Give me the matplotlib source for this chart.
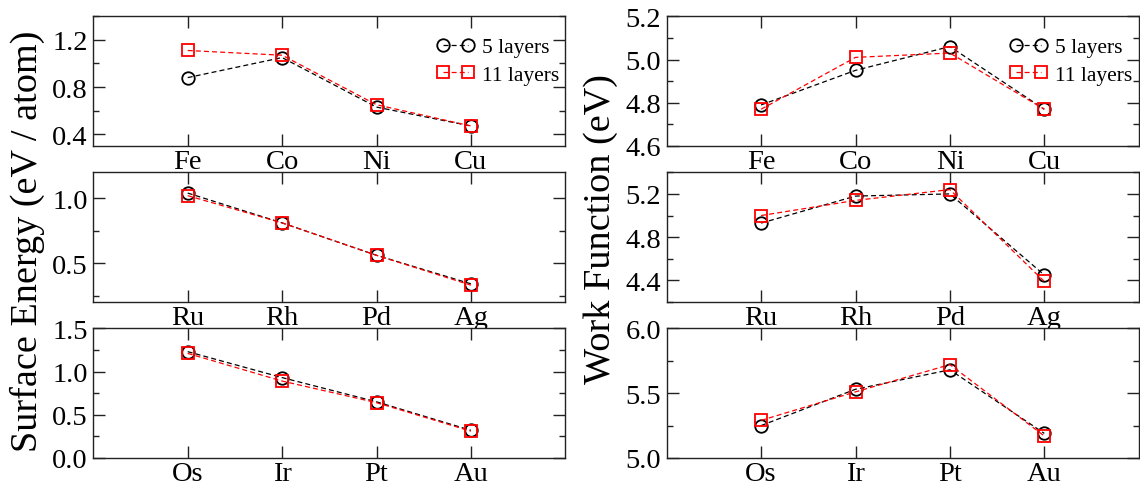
import matplotlib
matplotlib.use('Agg')
import matplotlib.pyplot as plt
from matplotlib.ticker import MultipleLocator, FixedLocator

plt.rcParams['font.family'] = ['Liberation Serif', 'DejaVu Serif']

# Element rows (3d, 4d, 5d metals)
elements_3d = ['Fe', 'Co', 'Ni', 'Cu']
elements_4d = ['Ru', 'Rh', 'Pd', 'Ag']
elements_5d = ['Os', 'Ir', 'Pt', 'Au']

# Surface energy (eV / atom)
surf_3d_5 = [0.88, 1.05, 0.63, 0.47]
surf_3d_11 = [1.11, 1.07, 0.65, 0.47]
surf_4d_5 = [1.04, 0.81, 0.56, 0.34]
surf_4d_11 = [1.02, 0.81, 0.56, 0.33]
surf_5d_5 = [1.23, 0.93, 0.65, 0.32]
surf_5d_11 = [1.21, 0.89, 0.64, 0.31]

# Work function (eV)
wf_3d_5 = [4.79, 4.95, 5.06, 4.77]
wf_3d_11 = [4.77, 5.01, 5.03, 4.77]
wf_4d_5 = [4.93, 5.18, 5.20, 4.45]
wf_4d_11 = [5.00, 5.14, 5.24, 4.39]
wf_5d_5 = [5.25, 5.53, 5.68, 5.19]
wf_5d_11 = [5.29, 5.51, 5.72, 5.17]

rows = [elements_3d, elements_4d, elements_5d]
surf = [(surf_3d_5, surf_3d_11), (surf_4d_5, surf_4d_11), (surf_5d_5, surf_5d_11)]
wf = [(wf_3d_5, wf_3d_11), (wf_4d_5, wf_4d_11), (wf_5d_5, wf_5d_11)]

surf_ylims = [(0.3, 1.4), (0.2, 1.2), (0.0, 1.5)]
surf_major = [0.4, 0.5, 0.5]
surf_yticks = [[0.4, 0.8, 1.2], [0.5, 1.0], [0.0, 0.5, 1.0, 1.5]]
wf_ylims = [(4.6, 5.2), (4.2, 5.4), (5.0, 6.0)]
wf_major = [0.2, 0.4, 0.5]
wf_yticks = [[4.6, 4.8, 5.0, 5.2], [4.4, 4.8, 5.2], [5.0, 5.5, 6.0]]

W, H = 1140, 489
fig = plt.figure(figsize=(W / 100, H / 100), dpi=100)

col_x = [93.3, 666.7]
col_w = 472.0
row_top = [17.3, 173.3, 329.3]
row_h = 129.7

dash = (0, (4.0, 2.5))


def style_axes(ax, labels, ylim, yticks, major):
    x = range(1, len(labels) + 1)
    ax.set_xlim(0, len(labels) + 1)
    ax.xaxis.set_major_locator(FixedLocator(list(x)))
    ax.set_xticklabels(labels)
    ax.set_ylim(*ylim)
    ax.set_yticks(yticks)
    ax.yaxis.set_minor_locator(MultipleLocator(major / 2))
    ax.set_yticklabels([f'{t:.1f}' for t in yticks])
    ax.tick_params(which='both', direction='in', top=True, right=True,
                   labelsize=20.5, width=1.0, color='#222222')
    ax.tick_params(which='major', length=8.5, pad=4)
    ax.tick_params(which='minor', length=4.5)
    ax.tick_params(axis='x', pad=2)
    for s in ax.spines.values():
        s.set_linewidth(1.0)
        s.set_color('#222222')


def draw(ax, labels, five, eleven):
    x = list(range(1, len(labels) + 1))
    ax.plot(x, five, linestyle=dash, color='black', lw=0.9,
            marker='o', ms=9, mfc='none', mec='black', mew=1.3,
            label='5 layers')
    ax.plot(x, eleven, linestyle=dash, color='#ff0000', lw=0.9,
            marker='s', ms=8, mfc='none', mec='#ff0000', mew=1.3,
            label='11 layers')


for c, (data, ylims, ticks, majors) in enumerate(
        [(surf, surf_ylims, surf_yticks, surf_major),
         (wf, wf_ylims, wf_yticks, wf_major)]):
    for r in range(3):
        ax = fig.add_axes([col_x[c] / W, 1 - (row_top[r] + row_h) / H,
                           col_w / W, row_h / H])
        draw(ax, rows[r], *data[r])
        style_axes(ax, rows[r], ylims[r], ticks[r], majors[r])
        if r == 0:
            ax.legend(loc='upper right', bbox_to_anchor=(1.0, 0.89),
                      frameon=False, numpoints=2,
                      fontsize=15.5, handlelength=1.76, handletextpad=0.33,
                      labelspacing=0.36, borderaxespad=0.0,
                      borderpad=0.3)

fig.text(27 / W, 1 - 241 / H, 'Surface Energy (eV / atom)', rotation=90,
         ha='center', va='center', fontsize=27.5)
fig.text(601 / W, 1 - 229 / H, 'Work Function (eV)', rotation=90,
         ha='center', va='center', fontsize=27.5)

fig.savefig('out.png', dpi=100)
